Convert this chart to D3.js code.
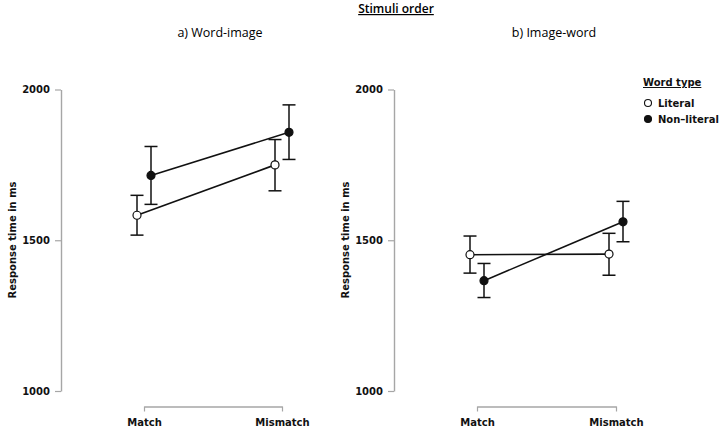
<!DOCTYPE html>
<html>
<head>
<meta charset="utf-8">
<script src="https://cdn.jsdelivr.net/npm/d3@7"></script>
<style>
  html, body { margin: 0; padding: 0; background: #fff; }
  svg { display: block; }
  .tick text { font-family: "DejaVu Sans", sans-serif; font-weight: bold; font-size: 10px; fill: #111; }
</style>
</head>
<body>
<svg id="chart" width="723" height="427"></svg>
<script>
// ---- data ----
const conditions = ["Match", "Mismatch"];
const wordTypes = ["Literal", "Non\u2013literal"];
const panelTitles = ["a) Word-image", "b) Image-word"];
const yTicks = [1000, 1500, 2000];

// a) Word-image
const wiLiteralMean = [1583, 1750];
const wiLiteralLow = [1517, 1664];
const wiLiteralHigh = [1649, 1834];
const wiNonLiteralMean = [1715, 1858];
const wiNonLiteralLow = [1619, 1768];
const wiNonLiteralHigh = [1811, 1949];

// b) Image-word
const iwLiteralMean = [1452, 1454];
const iwLiteralLow = [1391, 1384];
const iwLiteralHigh = [1514, 1523];
const iwNonLiteralMean = [1366, 1561];
const iwNonLiteralLow = [1310, 1495];
const iwNonLiteralHigh = [1423, 1629];

const panels = [
  { title: panelTitles[0], axisX: 61, xRange: [144, 282], titleX: 220,
    series: [
      { type: wordTypes[0], mean: wiLiteralMean, low: wiLiteralLow, high: wiLiteralHigh },
      { type: wordTypes[1], mean: wiNonLiteralMean, low: wiNonLiteralLow, high: wiNonLiteralHigh }
    ] },
  { title: panelTitles[1], axisX: 394, xRange: [477, 616], titleX: 554,
    series: [
      { type: wordTypes[0], mean: iwLiteralMean, low: iwLiteralLow, high: iwLiteralHigh },
      { type: wordTypes[1], mean: iwNonLiteralMean, low: iwNonLiteralLow, high: iwNonLiteralHigh }
    ] }
];

const svg = d3.select("#chart");
const y = d3.scaleLinear().domain([1000, 2000]).range([391, 89.5]);
const dodge = d3.scalePoint().domain(wordTypes).range([-7, 7]);
const axisColor = "#a6a6a6";

// super title
svg.append("text")
  .attr("x", 396).attr("y", 13)
  .attr("text-anchor", "middle")
  .style("font-family", "'Open Sans', sans-serif")
  .style("font-size", "12px")
  .style("font-weight", "600")
  .style("text-decoration", "underline")
  .text("Stimuli order");

panels.forEach(p => {
  const x = d3.scalePoint().domain(conditions).range(p.xRange);
  const g = svg.append("g");

  // panel title
  g.append("text")
    .attr("x", p.titleX).attr("y", 37)
    .attr("text-anchor", "middle")
    .style("font-family", "'Open Sans', sans-serif")
    .style("font-size", "12.5px")
    .text(p.title);

  // y axis
  const ya = g.append("g")
    .attr("transform", `translate(${p.axisX},0)`)
    .call(d3.axisLeft(y).tickValues(yTicks).tickSize(6).tickSizeOuter(0).tickPadding(5).tickFormat(d3.format("d")));
  ya.select(".domain").attr("stroke", axisColor).attr("stroke-width", 1.4);
  ya.selectAll(".tick line").attr("stroke", axisColor).attr("stroke-width", 1.2);

  // y title
  g.append("text")
    .attr("transform", `translate(${p.axisX - 49},240) rotate(-90)`)
    .attr("text-anchor", "middle")
    .attr("dy", "0.35em")
    .style("font-family", "'DejaVu Sans', sans-serif")
    .style("font-weight", "bold")
    .style("font-size", "10px")
    .style("fill", "#111")
    .text("Response time in ms");

  // x axis (bracket)
  const xa = g.append("g")
    .attr("transform", "translate(0,406.5)")
    .call(d3.axisBottom(x).tickSize(5).tickSizeOuter(0).tickPadding(7));
  xa.select(".domain").attr("stroke", axisColor).attr("stroke-width", 1.4);
  xa.selectAll(".tick line").attr("stroke", axisColor).attr("stroke-width", 1.2);

  // series
  p.series.forEach(s => {
    const pts = conditions.map((c, i) => ({
      x: x(c) + dodge(s.type), m: s.mean[i], lo: s.low[i], hi: s.high[i]
    }));
    g.append("path")
      .datum(pts)
      .attr("fill", "none")
      .attr("stroke", "#111")
      .attr("stroke-width", 1.6)
      .attr("d", d3.line().x(d => d.x).y(d => y(d.m)));
    pts.forEach(d => {
      g.append("line").attr("x1", d.x).attr("x2", d.x).attr("y1", y(d.lo)).attr("y2", y(d.hi))
        .attr("stroke", "#111").attr("stroke-width", 1.5);
      [d.lo, d.hi].forEach(v => {
        g.append("line").attr("x1", d.x - 6.5).attr("x2", d.x + 6.5).attr("y1", y(v)).attr("y2", y(v))
          .attr("stroke", "#111").attr("stroke-width", 1.5);
      });
    });
    g.selectAll(null).data(pts).enter().append("circle")
      .attr("cx", d => d.x).attr("cy", d => y(d.m)).attr("r", 4)
      .attr("fill", s.type === wordTypes[0] ? "#fff" : "#111")
      .attr("stroke", "#111").attr("stroke-width", 1.2);
  });
});

// legend
const lg = svg.append("g");
lg.append("text")
  .attr("x", 643).attr("y", 86)
  .style("font-family", "'DejaVu Sans', sans-serif")
  .style("font-weight", "bold")
  .style("font-size", "10px")
  .style("text-decoration", "underline")
  .style("fill", "#111")
  .text("Word type");
wordTypes.forEach((t, i) => {
  const cy = 103 + i * 16;
  lg.append("circle").attr("cx", 648).attr("cy", cy).attr("r", 3.5)
    .attr("fill", i === 0 ? "#fff" : "#111").attr("stroke", "#111").attr("stroke-width", 1.1);
  lg.append("text").attr("x", 658).attr("y", cy).attr("dy", "0.36em")
    .style("font-family", "'DejaVu Sans', sans-serif")
    .style("font-weight", "bold")
    .style("font-size", "10px")
    .style("fill", "#111")
    .text(t);
});
</script>
</body>
</html>
